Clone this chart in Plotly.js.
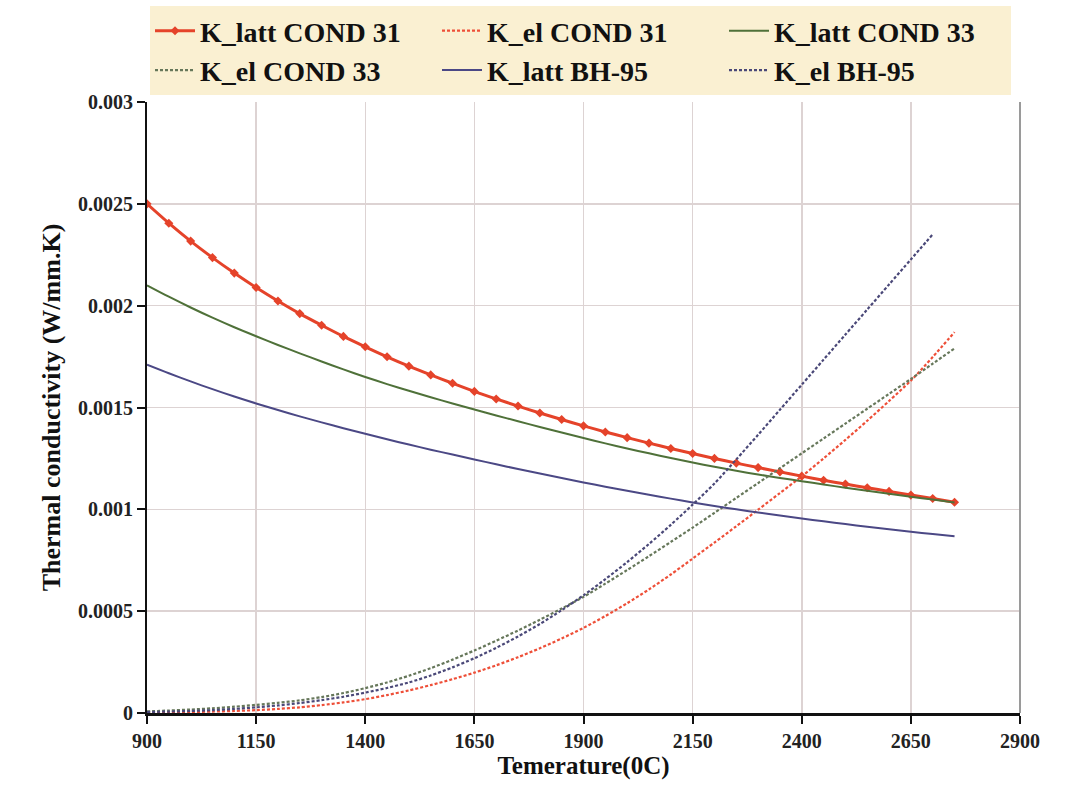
<!DOCTYPE html>
<html>
<head>
<meta charset="utf-8">
<script src="https://cdn.plot.ly/plotly-3.0.1.min.js"></script>
<style>
html,body{margin:0;padding:0;background:#fff;}
#chart{width:1080px;height:788px;}
</style>
</head>
<body>
<div id="chart"></div>
<script>
// Temperature (°C)
const temps = [900,950,1000,1050,1100,1150,1200,1250,1300,1350,1400,1450,1500,1550,1600,1650,1700,1750,1800,1850,1900,1950,2000,2050,2100,2150,2200,2250,2300,2350,2400,2450,2500,2550,2600,2650,2700,2750];
const tempsBH = [900,950,1000,1050,1100,1150,1200,1250,1300,1350,1400,1450,1500,1550,1600,1650,1700,1750,1800,1850,1900,1950,2000,2050,2100,2150,2200,2250,2300,2350,2400,2450,2500,2550,2600,2650,2700];

const kLattCond31 = [0.0025,0.002405,0.002317,0.002236,0.00216,0.002089,0.002023,0.001961,0.001904,0.001849,0.001798,0.001749,0.001703,0.00166,0.001619,0.001579,0.001542,0.001507,0.001473,0.001441,0.00141,0.00138,0.001352,0.001325,0.001299,0.001274,0.00125,0.001227,0.001205,0.001184,0.001163,0.001143,0.001124,0.001106,0.001088,0.00107,0.001053,0.001035];
const kElCond31 = [0.000002,0.000003,0.000005,0.000007,0.00001,0.000014,0.00002,0.000028,0.000039,0.000052,0.000068,0.000088,0.000111,0.000137,0.000166,0.000198,0.000234,0.000274,0.000318,0.000366,0.000418,0.000476,0.000539,0.000607,0.00068,0.000758,0.000837,0.000917,0.000998,0.00108,0.001162,0.00125,0.001341,0.001435,0.001532,0.001632,0.001748,0.00187];
const kLattCond33 = [0.0021,0.002044,0.001991,0.001941,0.001894,0.00185,0.001807,0.001766,0.001726,0.001687,0.00165,0.001615,0.001582,0.00155,0.00152,0.00149,0.001461,0.0014325,0.0014045,0.001377,0.00135,0.001324,0.001299,0.001275,0.001252,0.00123,0.001209,0.001189,0.001171,0.001154,0.001138,0.001122,0.001106,0.001091,0.001076,0.001062,0.001048,0.001034];
const kElCond33 = [0.000008,0.000012,0.000017,0.000023,0.000031,0.00004,0.00005,0.000062,0.000078,0.000098,0.000122,0.00015,0.000183,0.00022,0.000262,0.000307,0.000355,0.000405,0.000458,0.000513,0.00057,0.000635,0.000702,0.00077,0.00084,0.00091,0.000983,0.001056,0.001129,0.001202,0.001275,0.001348,0.001421,0.001494,0.001567,0.00164,0.001715,0.00179];
const kLattBH95 = [0.00171,0.001668,0.001628,0.00159,0.001554,0.00152,0.0014875,0.0014565,0.001427,0.0013985,0.001371,0.001344,0.001318,0.001293,0.001269,0.001245,0.001221,0.001198,0.0011755,0.0011535,0.001132,0.001111,0.001091,0.0010715,0.0010525,0.001034,0.0010165,0.001,0.0009845,0.0009695,0.000955,0.000941,0.0009275,0.0009145,0.000902,0.00089,0.0008785,0.0008675];
const kElBH95 = [0.000005,0.000007,0.00001,0.000014,0.00002,0.000028,0.000037,0.000049,0.000063,0.00008,0.0001,0.000123,0.00015,0.000184,0.000224,0.000269,0.00032,0.000376,0.000437,0.000505,0.000578,0.000657,0.000741,0.00083,0.000924,0.001023,0.001127,0.001245,0.001366,0.001489,0.001612,0.001735,0.001858,0.001981,0.002104,0.002227,0.00235];

const seriesNames = ["K_latt COND 31","K_el COND 31","K_latt COND 33","K_el COND 33","K_latt BH-95","K_el BH-95"];
const yTickVals = [0,0.0005,0.001,0.0015,0.002,0.0025,0.003];
const yTickText = ["0","0.0005","0.001","0.0015","0.002","0.0025","0.003"];
const xTickVals = [900,1150,1400,1650,1900,2150,2400,2650,2900];

const serif = "'Liberation Serif','Times New Roman',serif";
const smooth = {shape: "spline", smoothing: 0.8};

const traces = [
  {x: temps, y: kLattCond31, name: seriesNames[0], mode: "lines+markers",
   line: Object.assign({color: "#e5432a", width: 3}, smooth), marker: {symbol: "diamond", size: 7, color: "#e5432a"}},
  {x: temps, y: kElCond31, name: seriesNames[1], mode: "lines",
   line: Object.assign({color: "#ee4f38", width: 2.2, dash: "3px,2px"}, smooth)},
  {x: temps, y: kLattCond33, name: seriesNames[2], mode: "lines",
   line: Object.assign({color: "#4f7139", width: 2}, smooth)},
  {x: temps, y: kElCond33, name: seriesNames[3], mode: "lines",
   line: Object.assign({color: "#66775a", width: 2.2, dash: "3px,2px"}, smooth)},
  {x: temps, y: kLattBH95, name: seriesNames[4], mode: "lines",
   line: Object.assign({color: "#4b4885", width: 2}, smooth)},
  {x: tempsBH, y: kElBH95, name: seriesNames[5], mode: "lines",
   line: Object.assign({color: "#4a4878", width: 2.2, dash: "3px,2px"}, smooth)}
];

const layout = {
  width: 1080, height: 788,
  margin: {l: 147, r: 60, t: 102, b: 75},
  paper_bgcolor: "#ffffff",
  plot_bgcolor: "#ffffff",
  font: {family: serif, color: "#111", weight: "bold"},
  showlegend: true,
  legend: {
    orientation: "h",
    xref: "container", yref: "container",
    x: 150/1080, y: 1 - 6/788, xanchor: "left", yanchor: "top",
    bgcolor: "#faf0d2",
    font: {family: serif, size: 28, color: "#111", weight: "bold"},
    entrywidth: 232, entrywidthmode: "pixels",
    itemwidth: 40,
    tracegroupgap: 0
  },
  xaxis: {
    range: [900, 2900],
    tickvals: xTickVals,
    ticks: "outside", ticklen: 8, tickwidth: 2, tickcolor: "#111",
    showline: true, linecolor: "#111", linewidth: 3,
    showgrid: true, gridcolor: "#ddd3d3", gridwidth: 1.5,
    zeroline: false,
    tickfont: {family: serif, size: 20, color: "#222", weight: "bold"},
    title: {text: "Temerature(0C)", font: {family: serif, size: 25, color: "#111", weight: "bold"}, standoff: 6}
  },
  yaxis: {
    range: [0, 0.003],
    tickvals: yTickVals, ticktext: yTickText,
    ticks: "outside", ticklen: 8, tickwidth: 2, tickcolor: "#111",
    showline: true, linecolor: "#111", linewidth: 2,
    showgrid: true, gridcolor: "#ddd3d3", gridwidth: 1.5,
    zeroline: false,
    tickfont: {family: serif, size: 20, color: "#222", weight: "bold"},
    title: {text: "Thermal conductivity (W/mm.K)", font: {family: serif, size: 26, color: "#111", weight: "bold"}, standoff: 10}
  },
  shapes: [
    {type: "line", xref: "paper", yref: "paper", x0: 1, x1: 1, y0: 0, y1: 1,
     line: {color: "#9a9a9a", width: 2}}
  ]
};

Plotly.newPlot("chart", traces, layout, {displayModeBar: false, staticPlot: true});
</script>
</body>
</html>
